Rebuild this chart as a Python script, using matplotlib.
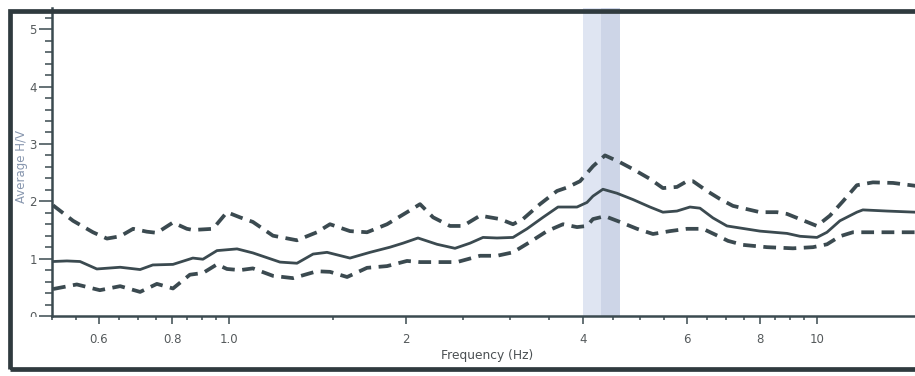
import matplotlib
matplotlib.use("Agg")
import matplotlib.pyplot as plt
from matplotlib.patches import Rectangle
from matplotlib.ticker import FixedLocator, NullFormatter
from matplotlib.transforms import Bbox, TransformedBbox

# Average H/V spectral ratio: mean curve and +/- one standard deviation
mean_freq = [0.502, 0.530, 0.558, 0.596, 0.653, 0.706, 0.742, 0.803, 0.868, 0.903,
             0.954, 1.032, 1.098, 1.221, 1.305, 1.390, 1.468, 1.606, 1.737, 1.879,
             1.977, 2.096, 2.259, 2.423, 2.570, 2.704, 2.856, 3.041, 3.212, 3.420,
             3.627, 3.907, 4.063, 4.159, 4.325, 4.570, 4.866, 5.200, 5.470, 5.779,
             6.081, 6.324, 6.654, 7.029, 8.000, 8.892, 9.356, 10.00, 10.40, 10.94,
             11.69, 11.97, 13.15, 14.70]
mean_hv = [0.95, 0.96, 0.95, 0.82, 0.85, 0.81, 0.89, 0.90, 1.01, 0.99,
           1.14, 1.17, 1.10, 0.94, 0.92, 1.08, 1.11, 1.01, 1.11, 1.20,
           1.27, 1.36, 1.25, 1.18, 1.27, 1.37, 1.36, 1.37, 1.52, 1.72,
           1.90, 1.90, 1.98, 2.09, 2.21, 2.14, 2.03, 1.90, 1.81, 1.83,
           1.90, 1.88, 1.71, 1.57, 1.48, 1.44, 1.39, 1.37, 1.46, 1.66,
           1.81, 1.85, 1.83, 1.81]

upper_freq = [0.502, 0.543, 0.587, 0.620, 0.653, 0.687, 0.725, 0.754, 0.803, 0.848,
              0.868, 0.939, 0.992, 1.044, 1.098, 1.188, 1.305, 1.411, 1.485, 1.606,
              1.717, 1.857, 2.008, 2.113, 2.224, 2.376, 2.500, 2.673, 2.890, 3.041,
              3.162, 3.380, 3.613, 3.757, 3.954, 4.159, 4.360, 4.624, 4.866, 5.200,
              5.470, 5.779, 6.010, 6.153, 6.500, 6.839, 7.196, 8.000, 8.551, 8.892,
              9.616, 10.00, 10.52, 11.07, 11.69, 12.45, 13.47, 14.70]
upper_hv = [1.93, 1.66, 1.46, 1.35, 1.39, 1.52, 1.47, 1.45, 1.63, 1.52,
            1.50, 1.52, 1.81, 1.72, 1.64, 1.40, 1.32, 1.46, 1.60, 1.48,
            1.46, 1.60, 1.81, 1.95, 1.72, 1.57, 1.57, 1.75, 1.69, 1.60,
            1.69, 1.95, 2.18, 2.24, 2.35, 2.61, 2.80, 2.68, 2.56, 2.39,
            2.23, 2.25, 2.35, 2.35, 2.18, 2.04, 1.92, 1.81, 1.81, 1.78,
            1.64, 1.57, 1.75, 2.00, 2.28, 2.33, 2.32, 2.27]

lower_freq = [0.502, 0.551, 0.603, 0.653, 0.706, 0.754, 0.803, 0.858, 0.903, 0.954,
              0.992, 1.044, 1.098, 1.188, 1.285, 1.411, 1.485, 1.588, 1.717, 1.857,
              2.008, 2.113, 2.286, 2.442, 2.673, 2.856, 3.041, 3.250, 3.474, 3.699,
              3.907, 4.063, 4.159, 4.360, 4.624, 4.943, 5.261, 5.623, 6.010, 6.399,
              6.839, 7.057, 7.484, 8.222, 9.103, 9.845, 10.40, 10.94, 11.51, 12.80,
              14.70]
lower_hv = [0.47, 0.55, 0.45, 0.52, 0.42, 0.56, 0.48, 0.72, 0.75, 0.90,
            0.82, 0.80, 0.83, 0.70, 0.66, 0.78, 0.77, 0.68, 0.84, 0.87,
            0.96, 0.94, 0.94, 0.94, 1.05, 1.05, 1.11, 1.29, 1.48, 1.60,
            1.55, 1.57, 1.69, 1.74, 1.64, 1.52, 1.43, 1.48, 1.52, 1.52,
            1.38, 1.31, 1.24, 1.20, 1.18, 1.20, 1.25, 1.39, 1.46, 1.46,
            1.46]

# Peak frequency and its standard deviation band (Hz)
peak_band = [4.00, 4.29, 4.62]

x_major = [0.6, 0.8, 1.0, 2, 4, 6, 8, 10]
x_major_labels = ["0.6", "0.8", "1.0", "2", "4", "6", "8", "10"]
x_minor = [0.5, 0.55, 0.65, 0.7, 0.75, 0.85, 0.9, 0.95,
           1.5, 2.5, 3, 3.5, 4.5, 5, 5.5, 6.5, 7, 7.5, 8.5, 9, 9.5]
y_major = [0, 1, 2, 3, 4, 5]

ink = "#3b4a50"
W, H = 915, 376

fig = plt.figure(figsize=(W / 100, H / 100), dpi=100)
fig.patch.set_facecolor("white")
ax = fig.add_axes([52 / W, 60 / H, (W - 52) / W, 308 / H])

ax.set_xscale("log")
ax.set_xlim(0.5, 14.68)
ax.set_ylim(0, 5.37)

# peak band: lighter left half, darker right half
ax.axvspan(peak_band[0], peak_band[1], color="#dfe5f2", lw=0, zorder=1)
ax.axvspan(peak_band[1], peak_band[2], color="#cdd5e7", lw=0, zorder=1)

ax.plot(upper_freq, upper_hv, color=ink, lw=2.7, dashes=(3.4, 2.0),
        dash_capstyle="butt", zorder=3)
ax.plot(lower_freq, lower_hv, color=ink, lw=2.7, dashes=(3.4, 2.0),
        dash_capstyle="butt", zorder=3)
ax.plot(mean_freq, mean_hv, color=ink, lw=2.0, solid_joinstyle="round", zorder=4)

for side in ("top", "right"):
    ax.spines[side].set_visible(False)
for side in ("left", "bottom"):
    ax.spines[side].set_color(ink)
    ax.spines[side].set_linewidth(1.8)

ax.xaxis.set_major_locator(FixedLocator(x_major))
ax.xaxis.set_minor_locator(FixedLocator(x_minor))
ax.set_xticklabels(x_major_labels)
ax.xaxis.set_minor_formatter(NullFormatter())
ax.yaxis.set_major_locator(FixedLocator(y_major))
ax.yaxis.set_minor_locator(FixedLocator([v / 5 for v in range(0, 27) if v % 5]))

ax.tick_params(axis="x", which="major", direction="out", length=6, width=1.1,
               color=ink, labelsize=8.5, labelcolor="#555a5c", pad=6)
ax.tick_params(axis="x", which="minor", direction="out", length=3, width=1.1, color=ink)
ax.tick_params(axis="y", which="major", direction="out", length=9.5, width=1.1,
               color=ink, labelsize=8.5, labelcolor="#555a5c", pad=1.5)
ax.tick_params(axis="y", which="minor", direction="out", length=5, width=1.1, color=ink)

ax.set_xlabel("Frequency (Hz)", fontsize=8.8, color="#4a4f52", va="center")
ax.xaxis.set_label_coords((487 - 52) / 863, -(355 - 316) / 308)
ax.set_ylabel("Average H/V", fontsize=8.5, color="#8796ae", va="center")
ax.yaxis.set_label_coords((22 - 52) / 863, (316 - 167) / 308)

# the zero label sits on the axis line and is cut off below it
zero_clip = TransformedBbox(Bbox([[0, 59.5 / H], [1, 1]]), fig.transFigure)
zero_label = ax.yaxis.get_major_ticks()[0].label1
zero_label.set_clip_box(zero_clip)
zero_label.set_clip_on(True)

# outer panel frame
fig.add_artist(Rectangle((10 / W, 7 / H), 1.2, (369 - 7 - 4) / H,
                         transform=fig.transFigure, fill=False,
                         ec="#2f3a3e", lw=3.4, clip_on=False, zorder=10))

fig.savefig("out.png", dpi=100, facecolor="white")
